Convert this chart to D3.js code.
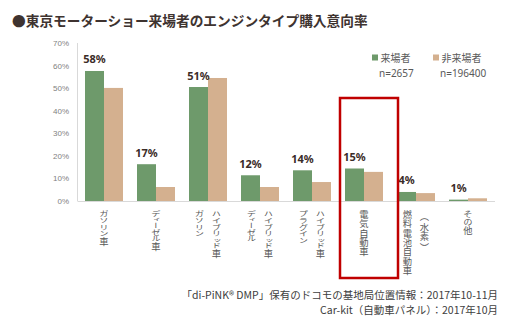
<!DOCTYPE html>
<html><head><meta charset="utf-8">
<script src="https://cdn.jsdelivr.net/npm/d3@7"></script>
<style>
html,body{margin:0;padding:0;background:#fff;}
svg{display:block;font-family:"Noto Sans CJK JP","Noto Sans",sans-serif;}
.vl{writing-mode:vertical-rl;}
</style></head>
<body><svg id="c" width="529" height="325"></svg>
<script>
const categories = [
  ["ガソリン車"],
  ["ディーゼル車"],
  ["ガソリン","ハイブリッド車"],
  ["ディーゼル","ハイブリッド車"],
  ["プラグイン","ハイブリッド車"],
  ["電気自動車"],
  ["燃料電池自動車","（水素）"],
  ["その他"]
];
const visitors    = [57.6, 16.3, 50.5, 11.4, 13.6, 14.4, 4.0, 0.6];
const nonVisitors = [50.1, 6.2, 54.5, 6.2, 8.4, 12.9, 3.5, 1.2];
const valueLabels = ["58%","17%","51%","12%","14%","15%","4%","1%"];
const yTicks = [0,10,20,30,40,50,60,70];
const seriesNames = ["来場者","非来場者"];
const seriesN = ["n=2657","n=196400"];
const title = "●東京モーターショー来場者のエンジンタイプ購入意向率";
const footer = ["「di-PiNK® DMP」保有のドコモの基地局位置情報：2017年10-11月","Car-kit（自動車パネル）：2017年10月"];

const colors = ["#6e9a6b","#d4b08f"];
const svg = d3.select("#c");
const idx = d3.range(categories.length);

const x0 = d3.scaleBand().domain(idx).range([78, 494]).padding(0);
const x1 = d3.scaleBand().domain([0,1]).range([7, x0.bandwidth()-7]).padding(0);
const y = d3.scaleLinear().domain([0,70]).range([201, 43]);

// title
svg.append("text").attr("x",12).attr("y",25.5)
  .attr("font-size",13.7).attr("font-weight","bold").attr("fill","#3e3330")
  .text(title);

// y axis labels
svg.selectAll(".yt").data(yTicks).enter().append("text")
  .attr("x",69).attr("y",d=>y(d)+3)
  .attr("text-anchor","end").attr("font-size",8).attr("fill","#7f7f7f")
  .attr("font-family","Liberation Sans, sans-serif")
  .text(d=>d+"%");

// bars
const g = svg.selectAll(".grp").data(idx).enter().append("g")
  .attr("transform",d=>`translate(${x0(d)},0)`);
g.append("rect").attr("x",x1(0)).attr("width",x1.bandwidth())
  .attr("y",d=>y(visitors[d])).attr("height",d=>y(0)-y(visitors[d]))
  .attr("fill",colors[0]);
g.append("rect").attr("x",x1(1)).attr("width",x1.bandwidth())
  .attr("y",d=>y(nonVisitors[d])).attr("height",d=>y(0)-y(nonVisitors[d]))
  .attr("fill",colors[1]);
g.append("text").attr("x",x1(0)+x1.bandwidth()/2)
  .attr("y",d=>y(visitors[d])-7.5)
  .attr("text-anchor","middle").attr("font-size",11).attr("font-weight","bold")
  .attr("fill","#3b2c28").attr("font-family","Noto Sans, sans-serif")
  .text(d=>valueLabels[d]);

// axes lines
svg.append("line").attr("x1",77.5).attr("x2",77.5).attr("y1",y(70)).attr("y2",y(0))
  .attr("stroke","#d9d9d9").attr("stroke-width",1);
svg.append("line").attr("x1",77.5).attr("x2",495).attr("y1",y(0)+0.5).attr("y2",y(0)+0.5)
  .attr("stroke","#d9d9d9").attr("stroke-width",1);

// x labels (vertical, condensed like the source)
const FS = 9.3;
function advance(c){
  if (/[（）]/.test(c)) return 12.5;
  if (/[\u4e00-\u9fff]/.test(c)) return 9.3;
  if (/[\u3040-\u309f]/.test(c)) return 7.8;
  if (/[ァィゥェォッャュョ]/.test(c)) return 5;
  return 6.8;
}
idx.forEach(i=>{
  const lines = categories[i];
  const cx = x0(i)+x0.bandwidth()/2;
  lines.forEach((t,j)=>{
    const off = lines.length===1 ? 0 : (j===0 ? -8.5 : 8.5);
    let s = 210;
    Array.from(t).forEach(c=>{
      const a = advance(c);
      const sc = Math.min(1, a/FS);
      const dy = a > FS ? (a-FS)/2 : 0;
      svg.append("text").attr("class","vl")
        .attr("transform",`translate(${cx+off},${s+dy}) scale(1,${sc})`)
        .attr("x",0).attr("y",0)
        .attr("font-size",FS).attr("fill","#595959")
        .text(c);
      s += a;
    });
  });
});

// legend
const lx = [372, 433];
seriesNames.forEach((s,i)=>{
  svg.append("rect").attr("x",lx[i]).attr("y",54.5).attr("width",6).attr("height",6).attr("fill",colors[i]);
  svg.append("text").attr("x",lx[i]+8.5).attr("y",61.5).attr("font-size",10).attr("fill","#595959").text(s);
  svg.append("text").attr("x",lx[i]+7).attr("y",77).attr("font-size",10).attr("fill","#595959")
    .attr("font-family","Noto Sans, sans-serif").text(seriesN[i]);
});

// highlight box
svg.append("rect").attr("x",x0(5)+2).attr("y",98).attr("width",x0.bandwidth()+6).attr("height",180)
  .attr("fill","none").attr("stroke","#c00000").attr("stroke-width",2.5);

// footer
footer.forEach((t,i)=>{
  svg.append("text").attr("x",498).attr("y",299+i*14.5)
    .attr("text-anchor","end").attr("font-size",10.5).attr("fill","#404040").text(t);
});
</script></body></html>
